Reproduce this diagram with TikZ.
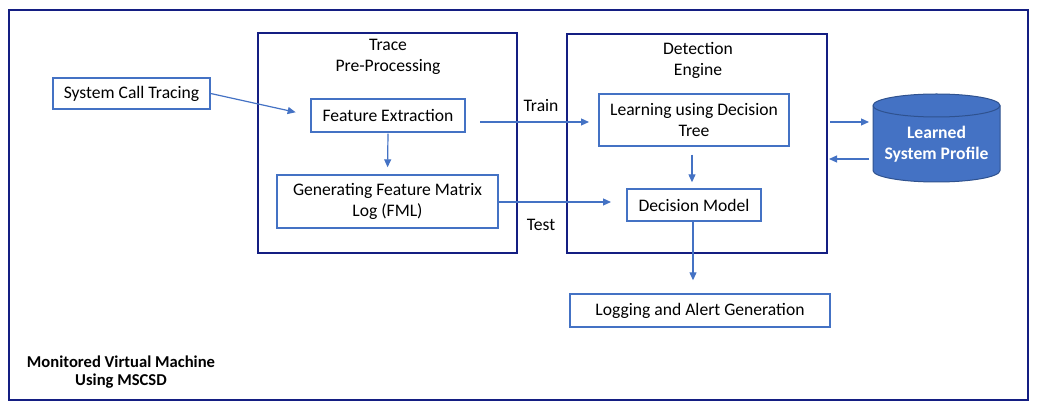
\documentclass[tikz,border=0pt]{standalone}
\usepackage{fontspec}
\setmainfont{Carlito}
\usetikzlibrary{arrows.meta}
\definecolor{navyc}{RGB}{20,30,130}
\definecolor{bluec}{RGB}{68,114,196}
\definecolor{cylborder}{RGB}{47,82,143}
\begin{document}
\begin{tikzpicture}[x=1pt,y=-1pt,
  every node/.style={font=\fontsize{17.6}{20.5}\selectfont, inner sep=0pt, align=center},
  frame/.style={draw=navyc, line width=1.4pt},
  box/.style={draw=bluec, line width=1.4pt, fill=white},
  arr/.style={draw=bluec, line width=1.2pt, -{Triangle[length=8pt,width=7pt]}},
  lbl/.style={text=black}
]
\useasboundingbox (0,0) rectangle (1037,411);
% outer frame
\node[frame, minimum width=1019pt, minimum height=390pt] (outer) at (518.5,205) {};
\node[font=\fontsize{16.6}{18.5}\selectfont\bfseries] (mvm) at (121,372) {Monitored Virtual Machine\\Using MSCSD};
% containers
\node[frame, minimum width=259pt, minimum height=220pt] (trace) at (387.5,143) {};
\node (tracet) at (388,57) {Trace\\Pre-Processing};
\node[frame, minimum width=260pt, minimum height=219pt] (det) at (697,143.5) {};
\node (dett) at (698,60.5) {Detection\\Engine};
% boxes
\node[box, minimum width=157pt, minimum height=31pt] (sct) at (131.5,93.5) {System Call Tracing};
\node[box, minimum width=154pt, minimum height=33pt] (fe) at (388,115.5) {Feature Extraction};
\node[box, minimum width=221pt, minimum height=53pt] (fml) at (387.5,201.5) {Generating Feature Matrix\\Log (FML)};
\node[box, minimum width=190pt, minimum height=52pt] (learn) at (694,120) {Learning using Decision\\Tree};
\node[box, minimum width=134pt, minimum height=32pt] (dm) at (694,205) {Decision Model};
\node[box, minimum width=260pt, minimum height=33pt] (log) at (700,310.5) {Logging and Alert Generation};
% cylinder
\filldraw[fill=bluec, draw=cylborder, line width=1pt]
  (873,105.5) -- (873,170.5) arc[start angle=180,end angle=360,x radius=63.5pt,y radius=11.5pt]
  -- (1000,105.5) arc[start angle=0,end angle=180,x radius=63.5pt,y radius=11.5pt] -- cycle;
\draw[draw=cylborder, line width=1pt] (873,105.5) arc[start angle=180,end angle=360,x radius=63.5pt,y radius=11.5pt];
\node[text=white, font=\fontsize{17.6}{21.5}\selectfont\bfseries] (cyl) at (936.5,144) {Learned\\System Profile};
% labels
\node (train) at (541,106) {Train};
\node (test) at (541,225) {Test};
% coordinates
\coordinate (trainS) at (480,122);
\coordinate (trainE) at (589,122);
\coordinate (testE) at (611,202);
\coordinate (c1S) at (830,122);
\coordinate (c1E) at (869,122);
\coordinate (c2S) at (869,159);
\coordinate (c2E) at (829,159);
% connectors
\draw[arr, shorten >=15pt] (sct.east) -- (fe.west);
\draw[arr, shorten <=1pt, shorten >=7pt] (fe.south) -- (fml.north);
\draw[arr] (trainS) -- (trainE);
\draw[arr] (fml.east |- testE) -- (testE);
\draw[arr, shorten <=8pt, shorten >=6pt] ([xshift=-2pt]learn.south) -- ([xshift=-2pt]dm.north);
\draw[arr, shorten >=13pt] ([xshift=-1pt]dm.south) -- ([xshift=-1pt]dm.south |- log.north);
\draw[arr] (c1S) -- (c1E);
\draw[arr] (c2S) -- (c2E);
\end{tikzpicture}
\end{document}
